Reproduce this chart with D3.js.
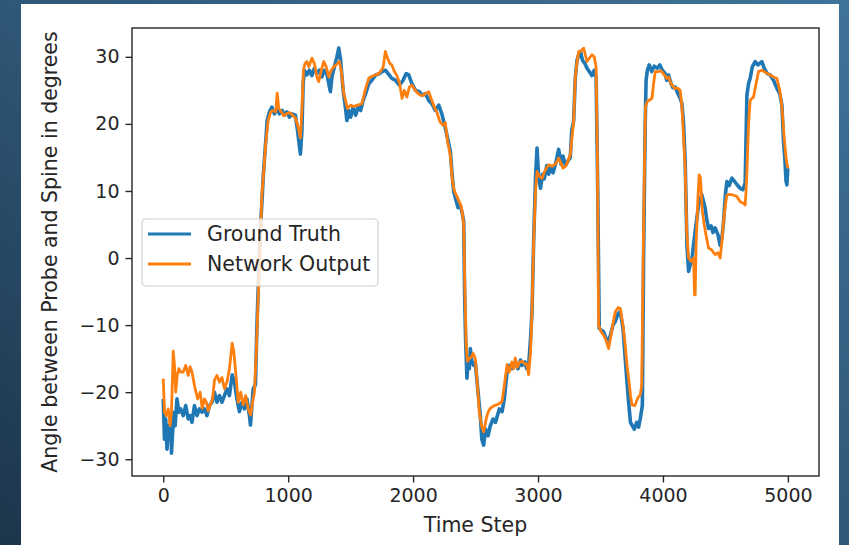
<!DOCTYPE html>
<html>
<head>
<meta charset="utf-8">
<script src="https://cdn.jsdelivr.net/npm/d3@7"></script>
<style>
  body { margin: 0; padding: 0; overflow: hidden; }
  text { font-family: "DejaVu Sans", sans-serif; }
</style>
</head>
<body>
<div id="chart"></div>
<script>
// values
var truthSteps = [0, 10, 20, 30, 40, 50, 60, 66, 75, 85, 95, 110, 125, 140, 160, 180, 200, 215, 230, 250, 270, 290, 310, 330, 350, 370, 390, 410, 430, 450, 470, 490, 510, 530, 552, 570, 590, 610, 630, 650, 670, 690, 698, 710, 720, 738, 750, 765, 780, 792, 800, 815, 832, 850, 870, 890, 912, 930, 952, 970, 990, 1010, 1030, 1058, 1075, 1085, 1098, 1110, 1120, 1130, 1150, 1170, 1190, 1210, 1230, 1250, 1270, 1290, 1310, 1330, 1338, 1350, 1370, 1390, 1405, 1420, 1440, 1458, 1470, 1485, 1500, 1520, 1540, 1560, 1580, 1600, 1620, 1645, 1670, 1700, 1730, 1752, 1780, 1800, 1830, 1860, 1890, 1920, 1945, 1965, 1990, 2020, 2050, 2072, 2100, 2125, 2150, 2178, 2205, 2230, 2258, 2280, 2298, 2310, 2325, 2345, 2360, 2378, 2395, 2405, 2412, 2420, 2431, 2440, 2450, 2458, 2470, 2485, 2498, 2510, 2525, 2538, 2550, 2565, 2580, 2600, 2618, 2640, 2660, 2690, 2712, 2730, 2752, 2770, 2790, 2818, 2840, 2860, 2872, 2895, 2910, 2925, 2940, 2952, 2965, 2980, 2992, 3005, 3020, 3035, 3050, 3070, 3085, 3100, 3120, 3140, 3165, 3185, 3200, 3220, 3240, 3258, 3270, 3285, 3298, 3312, 3325, 3340, 3355, 3375, 3392, 3410, 3432, 3450, 3465, 3478, 3490, 3510, 3525, 3545, 3560, 3580, 3600, 3618, 3640, 3658, 3680, 3698, 3712, 3725, 3740, 3752, 3770, 3790, 3805, 3818, 3835, 3845, 3858, 3865, 3875, 3890, 3910, 3930, 3955, 3975, 3995, 4015, 4030, 4045, 4065, 4080, 4098, 4120, 4138, 4152, 4165, 4178, 4192, 4205, 4218, 4230, 4245, 4258, 4272, 4285, 4298, 4310, 4325, 4338, 4350, 4365, 4385, 4400, 4418, 4440, 4458, 4472, 4485, 4500, 4512, 4530, 4552, 4570, 4590, 4618, 4640, 4658, 4672, 4685, 4698, 4715, 4738, 4760, 4792, 4810, 4835, 4858, 4885, 4912, 4935, 4952, 4965, 4975, 4985, 4992, 4999];
var truthValues = [-21, -27, -24, -28.5, -25, -27, -24, -29.1, -26, -23, -25, -21, -23, -22.5, -23.5, -22, -24, -23.5, -24.5, -22, -23.5, -22.5, -23, -22.5, -23.5, -22, -21.5, -20, -21.5, -20.5, -21.5, -20.5, -19.5, -20.5, -17.4, -18.5, -21, -22.9, -21.5, -22.5, -21, -23.5, -24.9, -22, -19.5, -18.9, -10, -2, 5, 9, 12, 16, 20.5, 21.8, 22.5, 21.5, 22.3, 21.5, 22, 21.3, 21.8, 21, 21.5, 21.3, 19, 17.5, 15.5, 19, 26, 28, 27.3, 28, 27.2, 28.3, 27.5, 28, 27, 28, 27.5, 25.5, 24.8, 27, 28.5, 30, 31.3, 29.5, 25, 22.5, 20.5, 22, 21, 22.5, 21.3, 22.5, 22, 23.5, 24.5, 26, 26.5, 27.3, 27.5, 27.8, 28, 27.5, 26.8, 26.5, 25.8, 26.5, 27.5, 27.3, 26, 25, 24.8, 24.3, 24.5, 23.5, 23, 22, 22.8, 21.5, 19.4, 17.5, 15.9, 13, 9.9, 8.5, 7.5, 7.9, 6.5, 5.4, -5, -12, -17.9, -15, -16.5, -13.5, -15.5, -16, -15.5, -18, -21, -23.5, -27, -27.9, -25.5, -26.5, -25, -24, -24.5, -22.5, -22.9, -21, -17, -16, -16.5, -15.5, -16.5, -15.2, -16, -15.5, -16.5, -16, -12, -8, 2.5, 12, 16.4, 12, 10.4, 12.5, 11.8, 13.8, 12.5, 13.5, 12.7, 14, 16.2, 14, 15.2, 13.8, 14.5, 15, 19, 20.4, 26.8, 29.5, 30.3, 30.8, 29.5, 29, 28.3, 27.8, 27.2, 28, 27, 10, -10.5, -10.8, -11, -12, -12.5, -11.5, -10, -9.5, -8.3, -8, -10.5, -15, -18.5, -21.5, -24.5, -24.9, -25.5, -24.5, -25.2, -24, -22, 0, 20, 26.5, 28, 28.8, 27.8, 28.6, 28.3, 28.8, 28, 27.6, 26.5, 27.3, 26, 25.4, 25.5, 24.5, 23.8, 23, 20, 14.4, 2, -2, -1, -0.5, 2, 4, 6, 7.9, 8.6, 9.5, 8.4, 7.4, 5.8, 4.4, 4.8, 3.8, 4.5, 3.5, 1.9, 3, 5.4, 9.5, 11.4, 10.8, 11.9, 11.5, 11, 10.4, 10.2, 11.2, 24.3, 26, 26.8, 28.5, 29.3, 28.8, 29.3, 28.3, 27.5, 27.3, 26.5, 25.3, 24.5, 22.8, 17.4, 15, 11.5, 10.9, 13.4];

var outputSteps = [0, 10, 25, 40, 55, 66, 80, 90, 100, 112, 125, 140, 160, 180, 200, 215, 230, 250, 275, 295, 312, 330, 345, 360, 375, 395, 410, 430, 450, 470, 490, 510, 530, 552, 565, 580, 600, 620, 640, 660, 680, 700, 715, 730, 745, 760, 775, 790, 805, 820, 840, 860, 880, 900, 912, 925, 945, 965, 985, 1010, 1035, 1060, 1080, 1098, 1110, 1122, 1135, 1150, 1165, 1190, 1210, 1230, 1245, 1265, 1285, 1305, 1325, 1345, 1370, 1395, 1410, 1425, 1445, 1458, 1475, 1500, 1525, 1555, 1590, 1620, 1645, 1670, 1700, 1730, 1760, 1778, 1795, 1815, 1830, 1850, 1870, 1890, 1912, 1930, 1950, 1970, 1990, 2010, 2040, 2070, 2100, 2125, 2150, 2170, 2190, 2215, 2240, 2258, 2275, 2298, 2315, 2330, 2350, 2365, 2380, 2392, 2405, 2415, 2425, 2435, 2450, 2465, 2480, 2498, 2515, 2530, 2548, 2565, 2585, 2600, 2618, 2650, 2680, 2712, 2730, 2752, 2770, 2790, 2805, 2818, 2835, 2852, 2872, 2895, 2910, 2925, 2940, 2952, 2965, 2980, 2992, 3010, 3032, 3055, 3085, 3110, 3140, 3165, 3180, 3200, 3225, 3258, 3272, 3285, 3298, 3310, 3325, 3340, 3365, 3380, 3392, 3410, 3432, 3450, 3465, 3475, 3485, 3505, 3525, 3545, 3565, 3580, 3600, 3618, 3640, 3658, 3680, 3698, 3712, 3725, 3740, 3752, 3775, 3800, 3818, 3830, 3845, 3860, 3872, 3895, 3912, 3925, 3938, 3960, 3985, 4010, 4030, 4045, 4065, 4080, 4098, 4120, 4138, 4152, 4165, 4178, 4190, 4205, 4225, 4245, 4253, 4258, 4265, 4280, 4290, 4300, 4315, 4330, 4345, 4365, 4390, 4418, 4440, 4458, 4472, 4485, 4500, 4512, 4535, 4560, 4590, 4618, 4640, 4658, 4665, 4672, 4685, 4698, 4712, 4725, 4740, 4765, 4790, 4810, 4835, 4858, 4885, 4912, 4935, 4952, 4970, 4985, 4999];
var outputValues = [-18, -23, -23.5, -22.5, -25, -23, -13.9, -16, -20, -17.5, -16.5, -17, -17, -16, -17.5, -16.2, -17, -19, -21, -20, -22.4, -21, -21.5, -22.8, -22, -21, -18.2, -17.5, -18.5, -17.8, -19.5, -18.5, -16.5, -12.7, -14, -17, -21.5, -20, -21.9, -20.5, -22.5, -23.4, -21.5, -20, -14, -6, 2, 9.5, 13, 17, 20.5, 21.8, 22, 21.8, 24.6, 22.3, 21.8, 21.2, 21.5, 21.7, 21.3, 20.8, 19.5, 17.9, 22, 28, 29, 29.3, 28.5, 29.8, 29, 27, 26.3, 28, 29.3, 28.5, 27, 28, 28.6, 29, 29.3, 28, 24.5, 23.6, 22.3, 22.8, 22.6, 22.8, 23, 25.3, 26.8, 27.1, 27.3, 27.6, 28.4, 30.8, 29.8, 29, 28.8, 27.8, 27.2, 26.2, 23.8, 25, 24, 25.5, 25.8, 25.2, 24.5, 24.2, 24.5, 24.8, 23.5, 22.5, 21.8, 20.3, 19.8, 20.2, 17.5, 15.3, 11.5, 10, 9.2, 8.6, 8, 7, 5, -5, -13, -15.4, -15, -14.8, -14.2, -15, -19, -23, -25, -25.9, -24, -23, -22.4, -22, -21.8, -21.4, -19, -15.9, -17, -15.5, -16.5, -14.9, -16.3, -15.5, -15.4, -15.8, -15.8, -17.4, -14, -7.9, 2.5, 10, 12.9, 12.2, 11.9, 13, 13.9, 13.7, 14, 14.9, 14.3, 13.4, 13.8, 15.4, 18, 20.4, 26.8, 29, 30.8, 30.8, 31.3, 30.2, 29.3, 29.8, 30.3, 30, 28.5, 15, -10, -11, -11.5, -12.3, -13.5, -12, -9.8, -8, -7.4, -7.5, -10, -13, -16, -17.9, -20.5, -21.9, -22, -20.8, -20.4, -19, 5, 22.5, 23.3, 23.6, 23.8, 26, 27.8, 27.8, 27.9, 27.3, 26.8, 27, 26, 25.6, 25.3, 25.3, 25, 22.5, 18, 13.4, 4, 0, -0.5, 0, -5.5, -5.5, 2, 9, 12.4, 12, 7, 5, 3.4, 1.5, 1.2, 0.5, 0.8, 0, 2.5, 5.4, 8, 9.4, 9.5, 9.4, 9.2, 8.4, 8.2, 7.9, 10, 12.9, 20, 23.5, 23.8, 24, 25.5, 27.8, 28, 27.8, 27.5, 27.3, 27, 26.8, 25, 22.5, 18, 15, 13.4];

var seriesNames = ["Ground Truth", "Network Output"];
var seriesColors = ["#1f77b4", "#ff7f0e"];
var xTicks = [0, 1000, 2000, 3000, 4000, 5000];
var yTicks = [-30, -20, -10, 0, 10, 20, 30];

var W = 849, H = 545;
var margin = { top: 28, right: 30, bottom: 69, left: 132 },
  width = 819 - margin.left,
  height = 476 - margin.top;

var root = d3.select("#chart")
  .append("svg")
  .attr("width", W)
  .attr("height", H);

// slide background
var grad = root.append("defs").append("linearGradient")
  .attr("id", "bg")
  .attr("x1", "100%").attr("y1", "0%")
  .attr("x2", "0%").attr("y2", "100%");
grad.append("stop").attr("offset", "0%").attr("stop-color", "#40739a");
grad.append("stop").attr("offset", "50%").attr("stop-color", "#2f5777");
grad.append("stop").attr("offset", "100%").attr("stop-color", "#1c354b");
root.append("rect").attr("width", W).attr("height", H).attr("fill", "url(#bg)");
root.append("rect").attr("x", 21).attr("y", 4).attr("width", 818).attr("height", H)
  .attr("fill", "#ffffff");

var svg = root.append("g")
  .attr("transform", "translate(" + margin.left + "," + margin.top + ")");

var x = d3.scaleLinear()
  .domain([-250, 5249])
  .range([0, width]);

var y = d3.scaleLinear()
  .domain([-32.5, 34.3])
  .range([height, 0]);

var fmt = function (d) { return d < 0 ? "\u2212" + Math.abs(d) : "" + d; };

// axes
var xAxis = svg.append("g")
  .attr("transform", "translate(0," + height + ")")
  .call(d3.axisBottom(x).tickValues(xTicks).tickFormat(fmt).tickSize(6.5).tickPadding(6).tickSizeOuter(0));
var yAxis = svg.append("g")
  .call(d3.axisLeft(y).tickValues(yTicks).tickFormat(fmt).tickSize(6.5).tickPadding(6).tickSizeOuter(0));

[xAxis, yAxis].forEach(function (a) {
  a.select(".domain").remove();
  a.selectAll("line").attr("stroke", "#262626").attr("stroke-width", 1.4);
  a.selectAll("text").attr("fill", "#262626").style("font-size", "19px")
    .style("font-family", "'DejaVu Sans', sans-serif");
});

// lines
var truthData = truthSteps.map(function (t, i) { return { t: t, v: truthValues[i] }; });
var outputData = outputSteps.map(function (t, i) { return { t: t, v: outputValues[i] }; });

var line = d3.line()
  .x(function (d) { return x(d.t); })
  .y(function (d) { return y(d.v); });

svg.append("path")
  .datum(truthData)
  .attr("d", line)
  .attr("fill", "none")
  .attr("stroke", seriesColors[0])
  .attr("stroke-width", 3.6)
  .attr("stroke-linejoin", "round");

svg.append("path")
  .datum(outputData)
  .attr("d", line)
  .attr("fill", "none")
  .attr("stroke", seriesColors[1])
  .attr("stroke-width", 2.8)
  .attr("stroke-linejoin", "round");

// frame
svg.append("rect")
  .attr("width", width).attr("height", height)
  .attr("fill", "none").attr("stroke", "#262626").attr("stroke-width", 1.4);

// legend
var legend = root.append("g").attr("transform", "translate(142,219)");
legend.append("rect")
  .attr("width", 236).attr("height", 67).attr("rx", 4)
  .attr("fill", "#ffffff").attr("fill-opacity", 0.8)
  .attr("stroke", "#d0d0d0").attr("stroke-width", 1.2);
seriesNames.forEach(function (name, i) {
  var ly = 15 + i * 30;
  legend.append("line")
    .attr("x1", 6).attr("x2", 49).attr("y1", ly).attr("y2", ly)
    .attr("stroke", seriesColors[i]).attr("stroke-width", 2.8);
  legend.append("text")
    .attr("x", 65).attr("y", ly + 7)
    .attr("fill", "#262626").style("font-size", "20.5px")
    .text(name);
});

// axis labels
root.append("text")
  .attr("x", margin.left + width / 2).attr("y", 532)
  .attr("text-anchor", "middle")
  .attr("fill", "#262626").style("font-size", "20.5px")
  .text("Time Step");
root.append("text")
  .attr("transform", "translate(57," + (margin.top + height / 2) + ") rotate(-90)")
  .attr("text-anchor", "middle")
  .attr("fill", "#262626").style("font-size", "20.5px")
  .text("Angle between Probe and Spine in degrees");
</script>
</body>
</html>
